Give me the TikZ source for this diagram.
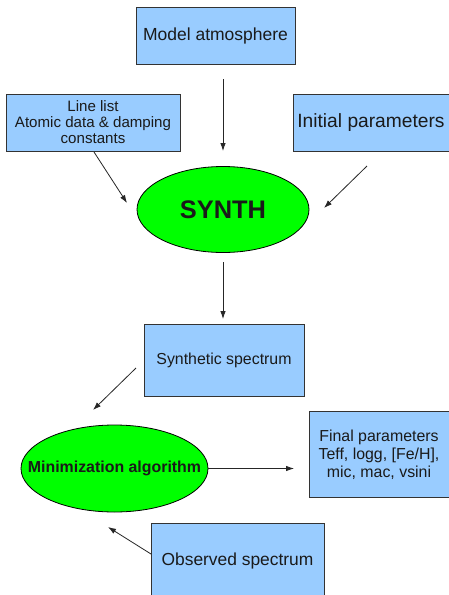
\documentclass[tikz,border=0pt]{standalone}
\usepackage{fontspec}
\setmainfont{Liberation Sans}
\usetikzlibrary{arrows.meta,shapes.geometric}
\definecolor{boxblue}{HTML}{99CCFF}
\definecolor{boxline}{HTML}{333333}
\definecolor{txt}{HTML}{1A1A1A}
\definecolor{ellgreen}{HTML}{00FF00}
\begin{document}
\begin{tikzpicture}[x=1pt,y=-1pt,
  box/.style={draw=boxline,line width=1pt,fill=boxblue,rectangle,inner sep=0pt,text=txt,align=center},
  ell/.style={draw=black,line width=0.8pt,fill=ellgreen,ellipse,inner sep=0pt,text=txt,align=center},
  arr/.style={draw=black!85,line width=0.8pt,-{Latex[length=8pt,width=5.5pt]}}]
\clip (0,0) rectangle (449,595);
\fill[white] (0,0) rectangle (449,595);
% boxes
\node[box,minimum width=159pt,minimum height=57pt,font=\fontsize{17.5}{20}\selectfont] (model) at (215.5,36) {Model atmosphere};
\node[box,minimum width=174pt,minimum height=57pt,font=\fontsize{15.1}{16}\selectfont] (linelist) at (93,122.5) {Line list\\Atomic data \& damping\\constants};
\node[box,minimum width=156pt,minimum height=57pt,font=\fontsize{19.2}{22}\selectfont] (init) at (371,123) {Initial parameters};
\node[ell,minimum width=172pt,minimum height=86pt,font=\fontsize{25.4}{28}\selectfont\bfseries] (synth) at (223,209.5) {\makebox[0pt]{SYNTH}};
\node[box,minimum width=160pt,minimum height=72pt,font=\fontsize{15.9}{18}\selectfont] (synspec) at (224,360.5) {Synthetic spectrum};
\node[ell,minimum width=187pt,minimum height=87pt,font=\fontsize{15.9}{18}\selectfont\bfseries] (mini) at (114.5,468.5) {\makebox[0pt]{Minimization algorithm}};
\node[box,minimum width=140pt,minimum height=86pt,font=\fontsize{15.9}{18}\selectfont] (final) at (379,454.5) {Final parameters\\Teff, logg, [Fe/H],\\mic, mac, vsini};
\node[box,minimum width=173pt,minimum height=74pt,font=\fontsize{17.4}{20}\selectfont] (obs) at (237.5,560.5) {Observed spectrum};
% free arrow ends
\coordinate (a1s) at (223,79);
\coordinate (a1e) at (223,151);
\coordinate (a2s) at (94,152);
\coordinate (a2e) at (127,203);
\coordinate (a3s) at (367,166);
\coordinate (a3e) at (324,208);
\coordinate (a4s) at (223,262);
\coordinate (a4e) at (223,319);
\coordinate (a5s) at (136,368);
\coordinate (a5e) at (93,410);
\coordinate (a6e) at (294,468.5);
\coordinate (a7s) at (151,554);
\coordinate (a7e) at (108,527);
% connectors
\draw[arr] (a1s) -- (a1e);
\draw[arr] (a2s) -- (a2e);
\draw[arr] (a3s) -- (a3e);
\draw[arr] (a4s) -- (a4e);
\draw[arr] (a5s) -- (a5e);
\draw[arr] (mini.east) -- (a6e);
\draw[arr] (a7s) -- (a7e);
\end{tikzpicture}
\end{document}
